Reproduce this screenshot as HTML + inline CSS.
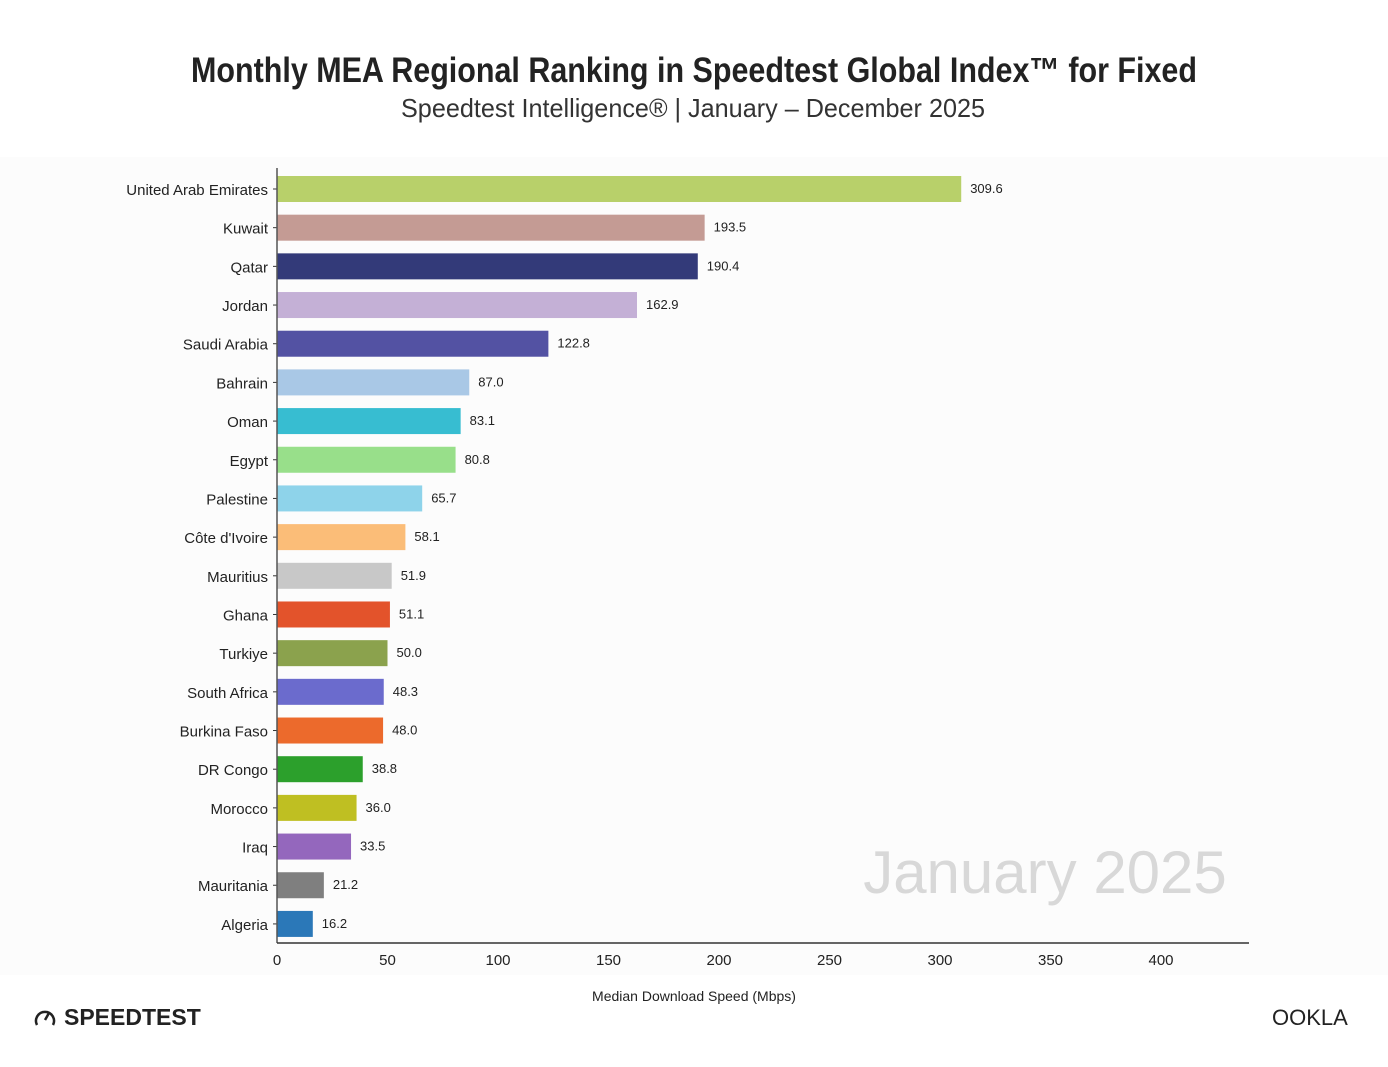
<!DOCTYPE html>
<html><head><meta charset="utf-8"><style>
body{margin:0;background:#fff;font-family:"Liberation Sans",sans-serif;}
#wrap{position:relative;width:1388px;height:1067px;overflow:hidden;}
</style></head><body>
<div id="wrap">
<svg id="chart" width="1388" height="1067">
<rect x="0" y="157" width="1388" height="818" fill="#fcfcfc"/>
<text x="694" y="82" text-anchor="middle" font-size="35" font-weight="bold" fill="#222" textLength="1006" lengthAdjust="spacingAndGlyphs">Monthly MEA Regional Ranking in Speedtest Global Index™ for Fixed</text>
<text x="693" y="117" text-anchor="middle" font-size="26" fill="#333" textLength="584" lengthAdjust="spacingAndGlyphs">Speedtest Intelligence® | January – December 2025</text>
<text x="1045" y="893" text-anchor="middle" font-size="60" fill="#d8d8d8">January 2025</text>
<text x="694" y="1001" text-anchor="middle" font-size="14" fill="#222">Median Download Speed (Mbps)</text>
<g>
<path d="M37 1025 A9 9 0 1 1 53 1025" fill="none" stroke="#222" stroke-width="2.5"/>
<line x1="45" y1="1020" x2="49" y2="1013" stroke="#222" stroke-width="2.5"/>
<text x="64" y="1025" font-size="23" font-weight="bold" fill="#222">SPEEDTEST</text>
</g>
<text x="1272" y="1025" font-size="22" fill="#222">OOKLA</text>
<g id="bars"></g>
</svg>
</div>
<script>
const countries=["United Arab Emirates","Kuwait","Qatar","Jordan","Saudi Arabia","Bahrain","Oman","Egypt","Palestine","Côte d'Ivoire","Mauritius","Ghana","Turkiye","South Africa","Burkina Faso","DR Congo","Morocco","Iraq","Mauritania","Algeria"];
const speeds=[309.6,193.5,190.4,162.9,122.8,87.0,83.1,80.8,65.7,58.1,51.9,51.1,50.0,48.3,48.0,38.8,36.0,33.5,21.2,16.2];
const colors=["#b8d06a","#c49b94","#333a79","#c4b0d6","#5352a3","#a9c8e6","#37bdd1","#98df8a","#8ed3ea","#fbbd78","#c8c8c8","#e3532b","#8ba24d","#6b6bcd","#ec6a2c","#2ca02c","#bfbf22","#9467bd","#7f7f7f","#2b78b8"];
const ticks=[0,50,100,150,200,250,300,350,400];
const NS="http://www.w3.org/2000/svg";
const g=document.getElementById('bars');
const x=v=>277+v*2.21;
const y=i=>189+i*38.68;
function mk(t,a){const e=document.createElementNS(NS,t);for(const k in a)e.setAttribute(k,a[k]);g.appendChild(e);return e;}
countries.forEach((c,i)=>{
 const r=mk('rect',{x:x(0),y:y(i)-13,width:x(speeds[i])-x(0),height:26,fill:colors[i]});
 
 
 const l=mk('text',{x:268,y:y(i)+6,'text-anchor':'end','font-size':15,fill:'#222'});l.textContent=c;
 
 
 const tk=mk('line',{x1:273,x2:277,y1:y(i),y2:y(i),stroke:'#333'});
 
 
 const v=mk('text',{x:x(speeds[i])+9,y:y(i)+4,'font-size':13,fill:'#222'});v.textContent=speeds[i].toFixed(1);
 
 
});
const ya=mk('line',{x1:277,x2:277,y1:168,y2:943,stroke:'#555','stroke-width':1.5});


const xa=mk('line',{x1:277,x2:1249,y1:943,y2:943,stroke:'#333','stroke-width':1.5});


ticks.forEach(t=>{
 const e=mk('text',{x:x(t),y:965,'text-anchor':'middle','font-size':15,fill:'#222'});e.textContent=t;
 
 
});
</script>
</body></html>
